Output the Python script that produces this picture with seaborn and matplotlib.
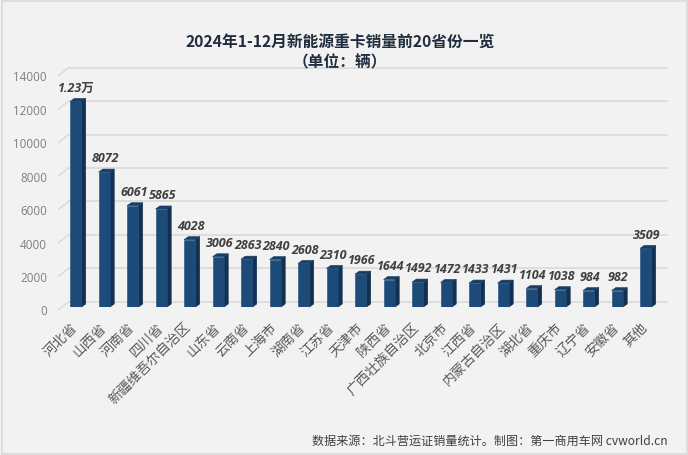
import matplotlib
matplotlib.use("Agg")
import matplotlib.pyplot as plt
import seaborn as sns
from matplotlib.patches import Polygon, Rectangle
from matplotlib.transforms import ScaledTranslation

# dati
provinces = ["河北省", "山西省", "河南省", "四川省", "新疆维吾尔自治区", "山东省", "云南省",
             "上海市", "湖南省", "江苏省", "天津市", "陕西省", "广西壮族自治区", "北京市",
             "江西省", "内蒙古自治区", "湖北省", "重庆市", "辽宁省", "安徽省", "其他"]
sales = [12300, 8072, 6061, 5865, 4028, 3006, 2863, 2840, 2608, 2310, 1966, 1644,
         1492, 1472, 1433, 1431, 1104, 1038, 984, 982, 3509]
bar_labels = ["1.23万", "8072", "6061", "5865", "4028", "3006", "2863", "2840", "2608",
              "2310", "1966", "1644", "1492", "1472", "1433", "1431", "1104", "1038",
              "984", "982", "3509"]
y_ticks = [0, 2000, 4000, 6000, 8000, 10000, 12000, 14000]

W, H = 688, 456
BG = "#f2f2f2"
GRID = "#d9d9d9"
FRONT = "#1c4b79"
SIDE = "#12304f"
CAP = "#1a3f66"

sns.set_theme(style="white")
cjk = ["Noto Sans CJK SC", "DejaVu Sans"]
latin = ["Open Sans", "Noto Sans CJK SC"]
plt.rcParams["font.family"] = cjk

fig = plt.figure(figsize=(W / 100, H / 100), dpi=100, facecolor=BG)
fig.add_artist(Rectangle((1.5 / W, 1.5 / H), (W - 3) / W, (H - 3) / H, transform=fig.transFigure,
                         facecolor="none", edgecolor="#d9d9d9", linewidth=1.2))

# assi sul piano delle barre (pixel: x 61.5-660, y 74-308)
ax = fig.add_axes([61.5 / W, (H - 308) / H, 598.5 / W, 234 / H])
ax.set_facecolor("none")

sns.barplot(x=provinces, y=sales, ax=ax, color=FRONT, saturation=1, width=0.4, zorder=4,
            edgecolor=FRONT, linewidth=0.4)
ax.set_xlim(-0.5, 20.5)
ax.set_ylim(0, 14000)

# griglia sul fondo, con la diagonale a sinistra
for t in y_ticks:
    ax.plot([0 - 0.5 + 0.246, 20.5 + 0.246], [t + 317, t + 317], color=GRID, lw=1.2,
            clip_on=False, zorder=1)
    ax.plot([-0.5 - 0.105, -0.5 + 0.246], [t - 160, t + 317], color=GRID, lw=1.0,
            clip_on=False, zorder=1)

# finto 3D: lato e tetto di ogni barra
dx, dy = 0.15, 180
for bar in list(ax.patches):
    x0, w, h = bar.get_x(), bar.get_width(), bar.get_height()
    ax.add_patch(Polygon([(x0 + w, 0), (x0 + w + dx, dy), (x0 + w + dx, h + dy), (x0 + w, h)],
                         facecolor=SIDE, edgecolor=SIDE, linewidth=0.4, clip_on=False, zorder=3))
    ax.add_patch(Polygon([(x0, h), (x0 + dx, h + dy), (x0 + w + dx, h + dy), (x0 + w, h)],
                         facecolor=CAP, edgecolor=CAP, linewidth=0.4, clip_on=False, zorder=3))

for i, (v, lab) in enumerate(zip(sales, bar_labels)):
    ax.annotate(lab, (i, v), xytext=(0.7, 10.3), textcoords="offset points", ha="center",
                va="center", fontsize=9, fontweight="bold", style="italic", color="#404040",
                family=latin, zorder=5)

sns.despine(ax=ax, left=True, bottom=True)
ax.grid(False)
ax.set_xlabel("")
ax.set_ylabel("")
ax.set_yticks(y_ticks)
ax.set_yticklabels([str(t) for t in y_ticks], fontsize=8.4, color="#7f7f7f", family=latin)
ax.tick_params(axis="y", length=0, pad=10.5)
ax.tick_params(axis="x", length=0, pad=9)
shift = ScaledTranslation(0, -1.8 / 72, fig.dpi_scale_trans)
for lab in ax.get_yticklabels():
    lab.set_transform(lab.get_transform() + shift)
ax.set_xticks(range(len(provinces)))
ax.set_xticklabels(provinces, rotation=45, ha="right", rotation_mode="anchor",
                   fontsize=9.8, color="#595959", fontweight="medium")
shift_x = ScaledTranslation(-4 / 72, 0, fig.dpi_scale_trans)
for lab in ax.get_xticklabels():
    lab.set_transform(lab.get_transform() + shift_x)

fig.text(340 / W, 1 - 42 / H, "2024年1-12月新能源重卡销量前20省份一览", ha="center", va="center",
         fontsize=11.3, fontweight="bold", color="#1f2d3d")
fig.text(340 / W, 1 - 62 / H, "（单位：辆）", ha="center", va="center",
         fontsize=11.3, fontweight="bold", color="#1f2d3d")
fig.text(668 / W, 1 - 441 / H, "数据来源：北斗营运证销量统计。制图：第一商用车网 cvworld.cn", ha="right",
         va="center", fontsize=8.7, color="#404040")

fig.savefig("out.png", dpi=100, facecolor=BG)
